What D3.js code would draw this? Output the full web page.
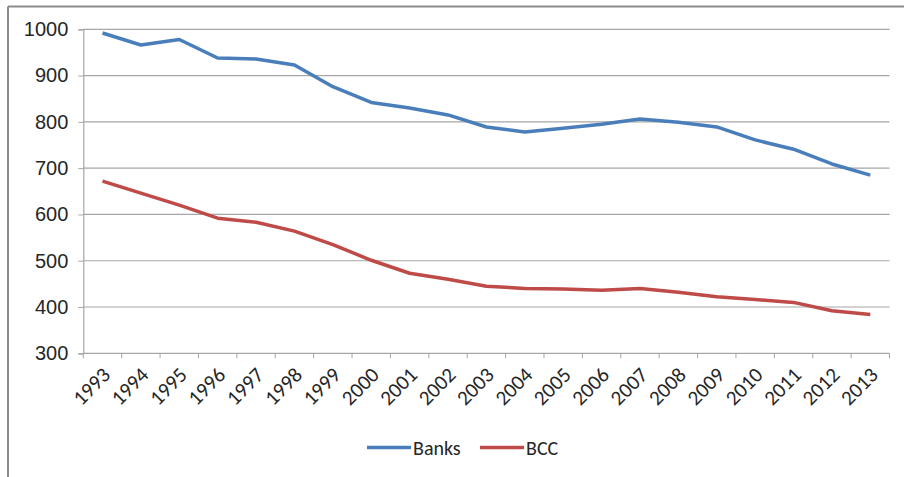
<!DOCTYPE html>
<html>
<head>
<meta charset="utf-8">
<script src="https://cdn.jsdelivr.net/npm/d3@7"></script>
<style>
  body { margin: 0; background: #fff; }
  svg { display: block; font-family: Calibri, Carlito, "Liberation Sans", "Open Sans", sans-serif; }
</style>
</head>
<body>
<svg class="lineChart" width="904" height="477"></svg>
<script>
// data
const years = ["1993","1994","1995","1996","1997","1998","1999","2000","2001","2002","2003",
               "2004","2005","2006","2007","2008","2009","2010","2011","2012","2013"];
const banks = [992, 966, 978, 938, 936, 923, 876, 842, 830, 815, 789,
               778, 786, 795, 806, 799, 789, 761, 741, 709, 685];
const bcc = [672, 646, 620, 592, 583, 564, 535, 501, 473, 460, 445,
             440, 439, 436, 440, 432, 422, 416, 410, 392, 384];
const yTicks = [300, 400, 500, 600, 700, 800, 900, 1000];
const seriesNames = ["Banks", "BCC"];
const colors = ["#4a7ebb", "#be4b48"];

let margin = {top: 29.3, right: 14.5, bottom: 123.7, left: 83.3};
let width = 904 - margin.left - margin.right;
let height = 477 - margin.top - margin.bottom;

let svg = d3.select(".lineChart");

// outer frame (top and left edges visible)
svg.append("line").attr("x1", 8).attr("x2", 904).attr("y1", 6.5).attr("y2", 6.5)
   .attr("stroke", "#8c8c8c").attr("stroke-width", 2);
svg.append("line").attr("x1", 8).attr("x2", 8).attr("y1", 6.5).attr("y2", 477)
   .attr("stroke", "#8c8c8c").attr("stroke-width", 2);

let g = svg.append("g")
    .attr("transform", `translate(${margin.left},${margin.top})`);

let x = d3.scaleBand().domain(years).range([0, width]);
let y = d3.scaleLinear().domain([300, 1000]).range([height, 0]);

// gridlines
g.append("g")
  .selectAll("line")
  .data(yTicks.filter(d => d > 300))
  .join("line")
    .attr("x1", 0).attr("x2", width)
    .attr("y1", d => y(d)).attr("y2", d => y(d))
    .attr("stroke", "#a6a6a6").attr("stroke-width", 1.2);

// y axis
let yAxis = g.append("g")
  .call(d3.axisLeft(y).tickValues(yTicks).tickFormat(d3.format("d")).tickSize(5).tickPadding(10));
yAxis.select(".domain").attr("stroke", "#a6a6a6").attr("stroke-width", 1.2);
yAxis.selectAll(".tick line").attr("stroke", "#a6a6a6");
yAxis.selectAll("text").attr("font-size", 20).attr("fill", "#262626");

// x axis with ticks at band edges
let xAxis = g.append("g").attr("transform", `translate(0,${height})`);
xAxis.append("line").attr("x1", 0).attr("x2", width)
  .attr("stroke", "#a6a6a6").attr("stroke-width", 1.2);
xAxis.selectAll(".edge")
  .data(years.concat(["end"]))
  .join("line")
    .attr("class", "edge")
    .attr("x1", (d, i) => i * x.step()).attr("x2", (d, i) => i * x.step())
    .attr("y1", 0).attr("y2", 5)
    .attr("stroke", "#a6a6a6");
xAxis.selectAll("text")
  .data(years)
  .join("text")
    .attr("transform", d => `translate(${x(d) + x.bandwidth() / 2 + 9},${23}) rotate(-45)`)
    .attr("text-anchor", "end")
    .attr("font-size", 21)
    .attr("fill", "#262626")
    .text(d => d);

// lines
let line = d3.line()
  .x((d, i) => x(years[i]) + x.bandwidth() / 2)
  .y(d => y(d));

[banks, bcc].forEach((s, i) => {
  g.append("path")
    .datum(s)
    .attr("fill", "none")
    .attr("stroke", colors[i])
    .attr("stroke-width", 3.5)
    .attr("stroke-linejoin", "round")
    .attr("d", line);
});

// legend
let legendX = [367, 480];
let legend = svg.append("g");
seriesNames.forEach((name, i) => {
  legend.append("line")
    .attr("x1", legendX[i]).attr("x2", legendX[i] + 44)
    .attr("y1", 447.5).attr("y2", 447.5)
    .attr("stroke", colors[i]).attr("stroke-width", 3.5);
  legend.append("text")
    .attr("x", legendX[i] + 46).attr("y", 454.5)
    .attr("font-size", 20).attr("fill", "#262626")
    .text(name);
});
</script>
</body>
</html>
